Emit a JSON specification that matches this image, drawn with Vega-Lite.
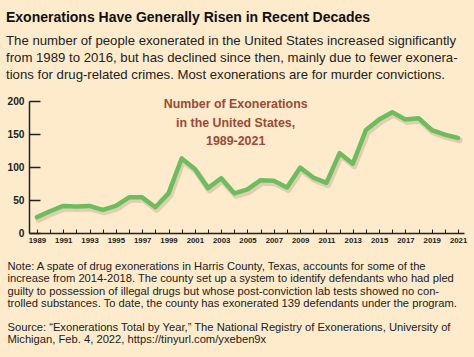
{
  "$schema": "https://vega.github.io/schema/vega-lite/v6.json",
  "width": 435,
  "height": 132,
  "autosize": {"type": "none"},
  "padding": {"left": 29, "top": 101, "right": 10, "bottom": 124},
  "background": "#FDEBCB",
  "title": {
    "text": "Exonerations Have Generally Risen in Recent Decades",
    "subtitle": [
      "The number of people exonerated in the United States increased significantly",
      "from 1989 to 2016, but has declined since then, mainly due to fewer exonera-",
      "tions for drug-related crimes. Most exonerations are for murder convictions."
    ],
    "anchor": "start",
    "frame": "group",
    "dx": -23,
    "offset": 15,
    "font": "Liberation Sans, Arial, sans-serif",
    "fontSize": 14,
    "fontWeight": "bold",
    "color": "#111111",
    "subtitleFont": "Liberation Sans, Arial, sans-serif",
    "subtitleFontSize": 13.2,
    "subtitleLineHeight": 17,
    "subtitleColor": "#222222",
    "subtitlePadding": 10
  },
  "data": {
    "values": [
      {"year": 1989, "count": 24}, {"year": 1990, "count": 33}, {"year": 1991, "count": 41},
      {"year": 1992, "count": 40}, {"year": 1993, "count": 41}, {"year": 1994, "count": 35},
      {"year": 1995, "count": 41}, {"year": 1996, "count": 54}, {"year": 1997, "count": 54},
      {"year": 1998, "count": 39}, {"year": 1999, "count": 60}, {"year": 2000, "count": 113},
      {"year": 2001, "count": 97}, {"year": 2002, "count": 68}, {"year": 2003, "count": 83},
      {"year": 2004, "count": 60}, {"year": 2005, "count": 66}, {"year": 2006, "count": 80},
      {"year": 2007, "count": 79}, {"year": 2008, "count": 69}, {"year": 2009, "count": 99},
      {"year": 2010, "count": 84}, {"year": 2011, "count": 76}, {"year": 2012, "count": 121},
      {"year": 2013, "count": 105}, {"year": 2014, "count": 156}, {"year": 2015, "count": 172},
      {"year": 2016, "count": 183}, {"year": 2017, "count": 172}, {"year": 2018, "count": 174},
      {"year": 2019, "count": 156}, {"year": 2020, "count": 149}, {"year": 2021, "count": 144}
    ]
  },
  "config": {
    "view": {"stroke": null},
    "axis": {"grid": false, "domainColor": "#222222", "domainWidth": 1.5, "tickColor": "#222222", "labelColor": "#222222"}
  },
  "encoding": {
    "x": {
      "field": "year",
      "type": "quantitative",
      "scale": {"domain": [1988.4, 2021.45], "nice": false, "zero": false},
      "axis": {
        "values": [1989,1990,1991,1992,1993,1994,1995,1996,1997,1998,1999,2000,2001,2002,2003,2004,2005,2006,2007,2008,2009,2010,2011,2012,2013,2014,2015,2016,2017,2018,2019,2020,2021],
        "labelExpr": "datum.value % 2 == 1 ? '' + datum.value : ''",
        "tickSize": -4,
        "tickWidth": 1,
        "labelPadding": 7,
        "labelFont": "Liberation Sans, Arial, sans-serif",
        "labelFontWeight": "bold",
        "labelFontSize": 7.8,
        "labelOverlap": false,
        "labelFlush": false,
        "title": [
          "Note: A spate of drug exonerations in Harris County, Texas, accounts for some of the",
          "increase from 2014-2018. The county set up a system to identify defendants who had pled",
          "guilty to possession of illegal drugs but whose post-conviction lab tests showed no con-",
          "trolled substances. To date, the county has exonerated 139 defendants under the program.",
          "\u200b",
          "Source: \u201cExonerations Total by Year,\u201d The National Registry of Exonerations, University of",
          "Michigan, Feb. 4, 2022, https://tinyurl.com/yxeben9x"
        ],
        "titleFont": "Liberation Sans, Arial, sans-serif",
        "titleFontWeight": "normal",
        "titleFontSize": 11.2,
        "titleLineHeight": 12.2,
        "titleColor": "#222222",
        "titleAnchor": "start",
        "titleAlign": "left",
        "titlePadding": 17,
        "titleX": -22
      }
    },
    "y": {
      "field": "count",
      "type": "quantitative",
      "scale": {"domain": [0, 200], "nice": false},
      "axis": {
        "values": [0, 50, 100, 150, 200],
        "tickSize": -11,
        "tickWidth": 1.5,
        "labelPadding": 16,
        "labelFont": "Liberation Sans, Arial, sans-serif",
        "labelFontWeight": "bold",
        "labelFontSize": 10.2,
        "title": null
      }
    }
  },
  "layer": [
    {
      "mark": {"type": "line", "stroke": "#7a6a4a", "strokeWidth": 6, "opacity": 0.22, "xOffset": 1.5, "yOffset": 2.5, "strokeJoin": "round", "strokeCap": "round"}
    },
    {
      "mark": {"type": "line", "stroke": "#6CBD5E", "strokeWidth": 4.5, "strokeJoin": "round", "strokeCap": "round"}
    },
    {
      "transform": [{"filter": "datum.year == 1989"}],
      "mark": {
        "type": "text",
        "text": ["Number of Exonerations", "in the United States,", "1989-2021"],
        "font": "Liberation Sans, Arial, sans-serif",
        "fontWeight": "bold",
        "fontSize": 12.4,
        "lineHeight": 18.5,
        "color": "#9A4A36",
        "align": "center",
        "baseline": "middle"
      },
      "encoding": {
        "x": {"datum": 2004.1},
        "y": {"datum": 195}
      }
    }
  ]
}
